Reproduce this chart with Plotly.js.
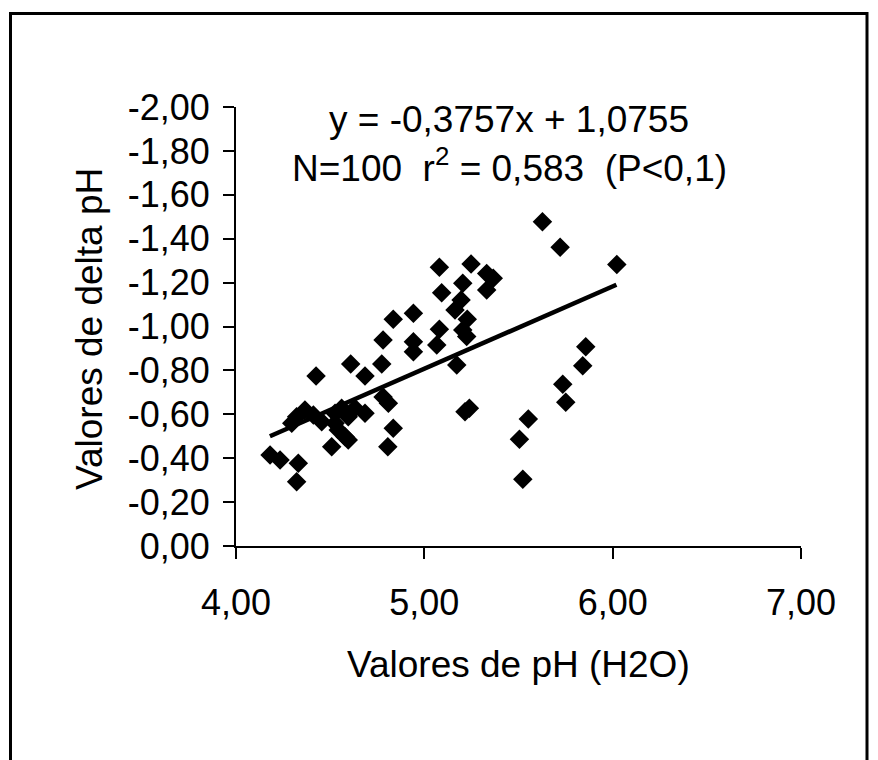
<!DOCTYPE html>
<html>
<head>
<meta charset="utf-8">
<script src="https://cdn.plot.ly/plotly-3.0.1.min.js"></script>
<style>
  html, body { margin: 0; padding: 0; background: #ffffff; }
  #chart { width: 878px; height: 760px; }
</style>
</head>
<body>
<div id="chart"></div>
<script>
// pH (H2O) values
const phH2O = [
  5.627, 5.721, 6.022, 5.857, 5.841, 5.735, 5.751, 5.552, 5.505, 5.523,
  5.080, 5.248, 5.331, 5.366, 5.204, 5.092, 5.331, 5.195, 5.163, 4.942,
  4.835, 5.228, 5.080, 5.204, 5.225, 4.942, 5.066, 4.942, 5.172, 5.239,
  5.216, 4.425, 4.609, 4.685, 4.774, 4.781, 4.809, 4.835, 4.806, 4.366,
  4.322, 4.296, 4.411, 4.455, 4.526, 4.561, 4.596, 4.632, 4.685, 4.543,
  4.579, 4.508, 4.596, 4.526, 4.181, 4.234, 4.331, 4.322, 4.781
];
// delta pH values
const deltaPH = [
  -1.477, -1.361, -1.283, -0.908, -0.821, -0.737, -0.655, -0.579, -0.486, -0.304,
  -1.270, -1.285, -1.242, -1.220, -1.197, -1.154, -1.166, -1.121, -1.075, -1.060,
  -1.033, -1.033, -0.987, -0.984, -0.954, -0.931, -0.916, -0.885, -0.825, -0.627,
  -0.612, -0.774, -0.829, -0.774, -0.829, -0.938, -0.650, -0.536, -0.452, -0.620,
  -0.589, -0.559, -0.597, -0.566, -0.605, -0.627, -0.589, -0.627, -0.605, -0.528,
  -0.498, -0.452, -0.483, -0.559, -0.415, -0.392, -0.377, -0.293, -0.679
];
// regression line end points
const trendX = [4.18, 6.02];
const trendY = [-0.50, -1.19];

// axis ticks
const xTickVals = [4, 5, 6, 7];
const xTickText = ["4,00", "5,00", "6,00", "7,00"];
const yTickVals = [0, -0.2, -0.4, -0.6, -0.8, -1.0, -1.2, -1.4, -1.6, -1.8, -2.0];
const yTickText = ["0,00", "-0,20", "-0,40", "-0,60", "-0,80", "-1,00", "-1,20", "-1,40", "-1,60", "-1,80", "-2,00"];

// texts
const xTitle = "Valores de pH (H2O)";
const yTitle = "Valores de delta pH";
const eqText = "y = -0,3757x + 1,0755";
const statText = "N=100\u00A0\u00A0r<sup>2</sup> = 0,583\u00A0\u00A0(P<0,1)";

const FONT = "Liberation Sans, Arial, sans-serif";
const TICK_SIZE = 36;
const TITLE_SIZE = 37;

const traces = [
  {
    x: phH2O, y: deltaPH, type: "scatter", mode: "markers",
    marker: { symbol: "diamond", size: 15, color: "#000000", line: { width: 0 } },
    hoverinfo: "x+y", showlegend: false
  },
  {
    x: trendX, y: trendY, type: "scatter", mode: "lines",
    line: { color: "#000000", width: 4.5 },
    hoverinfo: "skip", showlegend: false
  }
];

// paper coords: plot area spans x 236..801, y 107..546 px
const px = p => (p - 236) / 565;
const py = q => (546 - q) / 439;

const titleFont = { family: FONT, size: TITLE_SIZE, color: "#000000" };

const layout = {
  width: 878, height: 760,
  margin: { l: 236, r: 77, t: 107, b: 214 },
  paper_bgcolor: "#ffffff", plot_bgcolor: "#ffffff",
  font: { family: FONT, size: TICK_SIZE, color: "#000000" },
  showlegend: false,
  xaxis: {
    range: [4, 7], tickvals: xTickVals, ticktext: xTickText,
    showgrid: false, zeroline: false,
    showline: true, linecolor: "#000000", linewidth: 2,
    ticks: "outside", ticklen: 11, tickwidth: 2, tickcolor: "#000000",
    tickfont: { family: FONT, size: TICK_SIZE, color: "#000000" },
    ticklabelstandoff: 13
  },
  yaxis: {
    range: [0, -2], tickvals: yTickVals, ticktext: yTickText,
    showgrid: false, zeroline: false,
    showline: true, linecolor: "#000000", linewidth: 2,
    ticks: "outside", ticklen: 11, tickwidth: 2, tickcolor: "#000000",
    tickfont: { family: FONT, size: TICK_SIZE, color: "#000000" },
    ticklabelstandoff: 6
  },
  annotations: [
    {
      xref: "paper", yref: "paper", x: px(518), y: py(664), xanchor: "center", yanchor: "middle",
      text: xTitle, showarrow: false, font: titleFont
    },
    {
      xref: "paper", yref: "paper", x: px(89), y: py(329), xanchor: "center", yanchor: "middle",
      text: yTitle, textangle: -90, showarrow: false, font: titleFont
    },
    {
      xref: "paper", yref: "paper", x: px(509), y: py(120), xanchor: "center", yanchor: "middle",
      text: eqText, showarrow: false, font: titleFont
    },
    {
      xref: "paper", yref: "paper", x: px(509), y: py(165), xanchor: "center", yanchor: "middle",
      text: statText, showarrow: false, font: titleFont
    }
  ],
  shapes: [
    {
      type: "path", xref: "paper", yref: "paper",
      path: "M " + px(10.5) + " " + py(780) + " L " + px(10.5) + " " + py(13.5) +
            " L " + px(867) + " " + py(13.5) + " L " + px(867) + " " + py(780),
      line: { color: "#000000", width: 3 }
    }
  ]
};

Plotly.newPlot("chart", traces, layout, { displayModeBar: false, staticPlot: true });
</script>
</body>
</html>
